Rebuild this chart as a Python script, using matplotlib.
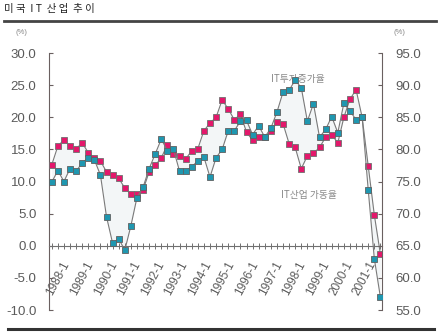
import numpy as np
import matplotlib
matplotlib.use("Agg")
import matplotlib.pyplot as plt
from matplotlib.lines import Line2D
from matplotlib.transforms import ScaledTranslation

plt.rcParams['font.family'] = ['Liberation Sans', 'Noto Sans CJK KR', 'DejaVu Sans']

# 분기별 데이터 (1988-1 ~ 2001-3)
years = list(range(1988, 2002))
quarters = [f"{y}-{q}" for y in years for q in range(1, 5)][:55]

# IT투자증가율 (%, 왼쪽 축)
invest_growth = [12.6, 15.5, 16.5, 15.5, 15.1, 16.0, 14.5, 13.6, 13.2, 11.5,
                 11.0, 10.5, 9.0, 8.0, 8.1, 8.7, 11.5, 12.5, 13.7, 15.7,
                 14.3, 14.0, 13.5, 14.8, 15.1, 17.9, 19.1, 20.0, 22.7, 21.3,
                 19.6, 20.5, 17.7, 16.4, 17.0, 16.9, 17.8, 19.2, 19.0, 15.9,
                 15.3, 12.0, 14.0, 14.4, 15.3, 16.9, 17.3, 16.0, 20.0, 22.8,
                 24.3, 20.0, 12.4, 4.8, -1.3]

# IT산업 가동율 (%, 오른쪽 축)
utilization = [74.9, 76.7, 75.0, 77.0, 76.6, 77.9, 78.7, 78.4, 76.0, 69.5,
               65.4, 66.1, 64.3, 68.1, 72.5, 74.1, 77.0, 79.3, 81.6, 79.8,
               80.0, 76.6, 76.6, 77.3, 78.2, 78.8, 75.7, 78.7, 80.0, 82.9,
               82.9, 84.4, 84.5, 82.3, 83.7, 81.9, 83.3, 85.8, 88.9, 89.2,
               90.8, 89.6, 84.4, 87.1, 81.9, 83.1, 85.1, 82.6, 87.2, 86.0,
               84.6, 85.0, 73.7, 63.0, 57.0]

left_ticks = [-10, -5, 0, 5, 10, 15, 20, 25, 30]
right_ticks = [55, 60, 65, 70, 75, 80, 85, 90, 95]

pink = '#e3186b'
teal = '#1f97b0'
grey_txt = '#5a5a5a'

fig = plt.figure(figsize=(4.4, 3.33), dpi=100)
ax = fig.add_axes([0.1114, 0.069, 0.7566, 0.7718])
ax2 = ax.twinx()

x = np.arange(len(quarters))
inv = np.array(invest_growth)
util = np.array(utilization)
offset = right_ticks[0] - left_ticks[0]

# 두 선 사이 옅은 음영
ax.fill_between(x, inv, util - offset, color='#f3f6f7', zorder=1, lw=0)

ax.plot(x, inv, color='#7a7a7a', lw=0.8, marker='s', markersize=4.5,
        markerfacecolor=pink, markeredgecolor='#707070', markeredgewidth=0.6, zorder=3)
ax2.plot(x, util, color='#7a7a7a', lw=0.8, marker='s', markersize=4.5,
         markerfacecolor=teal, markeredgecolor='#606060', markeredgewidth=0.6, zorder=3)

ax.set_xlim(-0.45, len(quarters) - 0.75)
ax.set_ylim(left_ticks[0], left_ticks[-1])
ax2.set_ylim(right_ticks[0], right_ticks[-1])

ax.set_yticks(left_ticks)
ax.set_yticklabels([f"{v:.1f}" for v in left_ticks])
ax2.set_yticks(right_ticks)
ax2.set_yticklabels([f"{v:.1f}" for v in right_ticks])

for a in (ax, ax2):
    a.spines['top'].set_visible(False)
    a.spines['left'].set_color('#6a6060')
    a.spines['right'].set_color('#6a6060')
    a.spines['bottom'].set_visible(False)
    a.patch.set_visible(False)

ax.spines['right'].set_visible(False)
ax2.spines['left'].set_visible(False)
ax.spines['bottom'].set_visible(True)
ax.spines['bottom'].set_position(('data', 0))
ax.spines['bottom'].set_color('#707070')

ax.tick_params(axis='y', direction='in', length=3, color='#6a6060',
               labelsize=9.5, labelcolor=grey_txt, pad=9)
ax2.tick_params(axis='y', direction='in', length=3, color='#6a6060',
                labelsize=9.5, labelcolor=grey_txt, pad=10)

# 분기 눈금, 연도 라벨은 1분기마다
ax.set_xticks(x)
ax.set_xticklabels([q if q.endswith('-1') else '' for q in quarters],
                   rotation=62, ha='right', va='top', rotation_mode='anchor',
                   fontsize=8.5, color=grey_txt)
ax.tick_params(axis='x', direction='inout', length=4, width=0.7, color='#707070', pad=8)
# 라벨 간격이 눈금보다 약간 좁음: 왼쪽은 오른쪽으로 밀고 끝으로 갈수록 줄임
n = len(quarters)
for i, lbl in enumerate(ax.get_xticklabels()):
    shift = 10 - 10 * i / (n - 3)
    lbl.set_transform(lbl.get_transform() + ScaledTranslation(shift / 100, 0, fig.dpi_scale_trans))

ax.text(0.667, 0.897, 'IT투자증가율', transform=ax.transAxes, fontsize=7,
        color='#888888', family=['Noto Sans CJK KR'], va='center')
ax.text(0.697, 0.446, 'IT산업 가동율', transform=ax.transAxes, fontsize=7,
        color='#888888', family=['Noto Sans CJK KR'], va='center')

fig.text(21 / 440, 1 - 33 / 333, '(%)', fontsize=5.5, color='#888888', ha='center', va='center')
fig.text(399 / 440, 1 - 33 / 333, '(%)', fontsize=5.5, color='#888888', ha='center', va='center')

fig.text(4 / 440, 1 - 9 / 333, '미 국  I T  산 업  추 이', fontsize=7.5, color='#222222',
         family=['Noto Sans CJK KR'], va='center', ha='left')

fig.add_artist(Line2D([4 / 440, 436 / 440], [1 - 21 / 333, 1 - 21 / 333],
                      color='#444444', lw=2, transform=fig.transFigure))
fig.add_artist(Line2D([8 / 440, 434 / 440], [1 - 329 / 333, 1 - 329 / 333],
                      color='#333333', lw=2.2, transform=fig.transFigure))

fig.savefig('out.png', dpi=100)
